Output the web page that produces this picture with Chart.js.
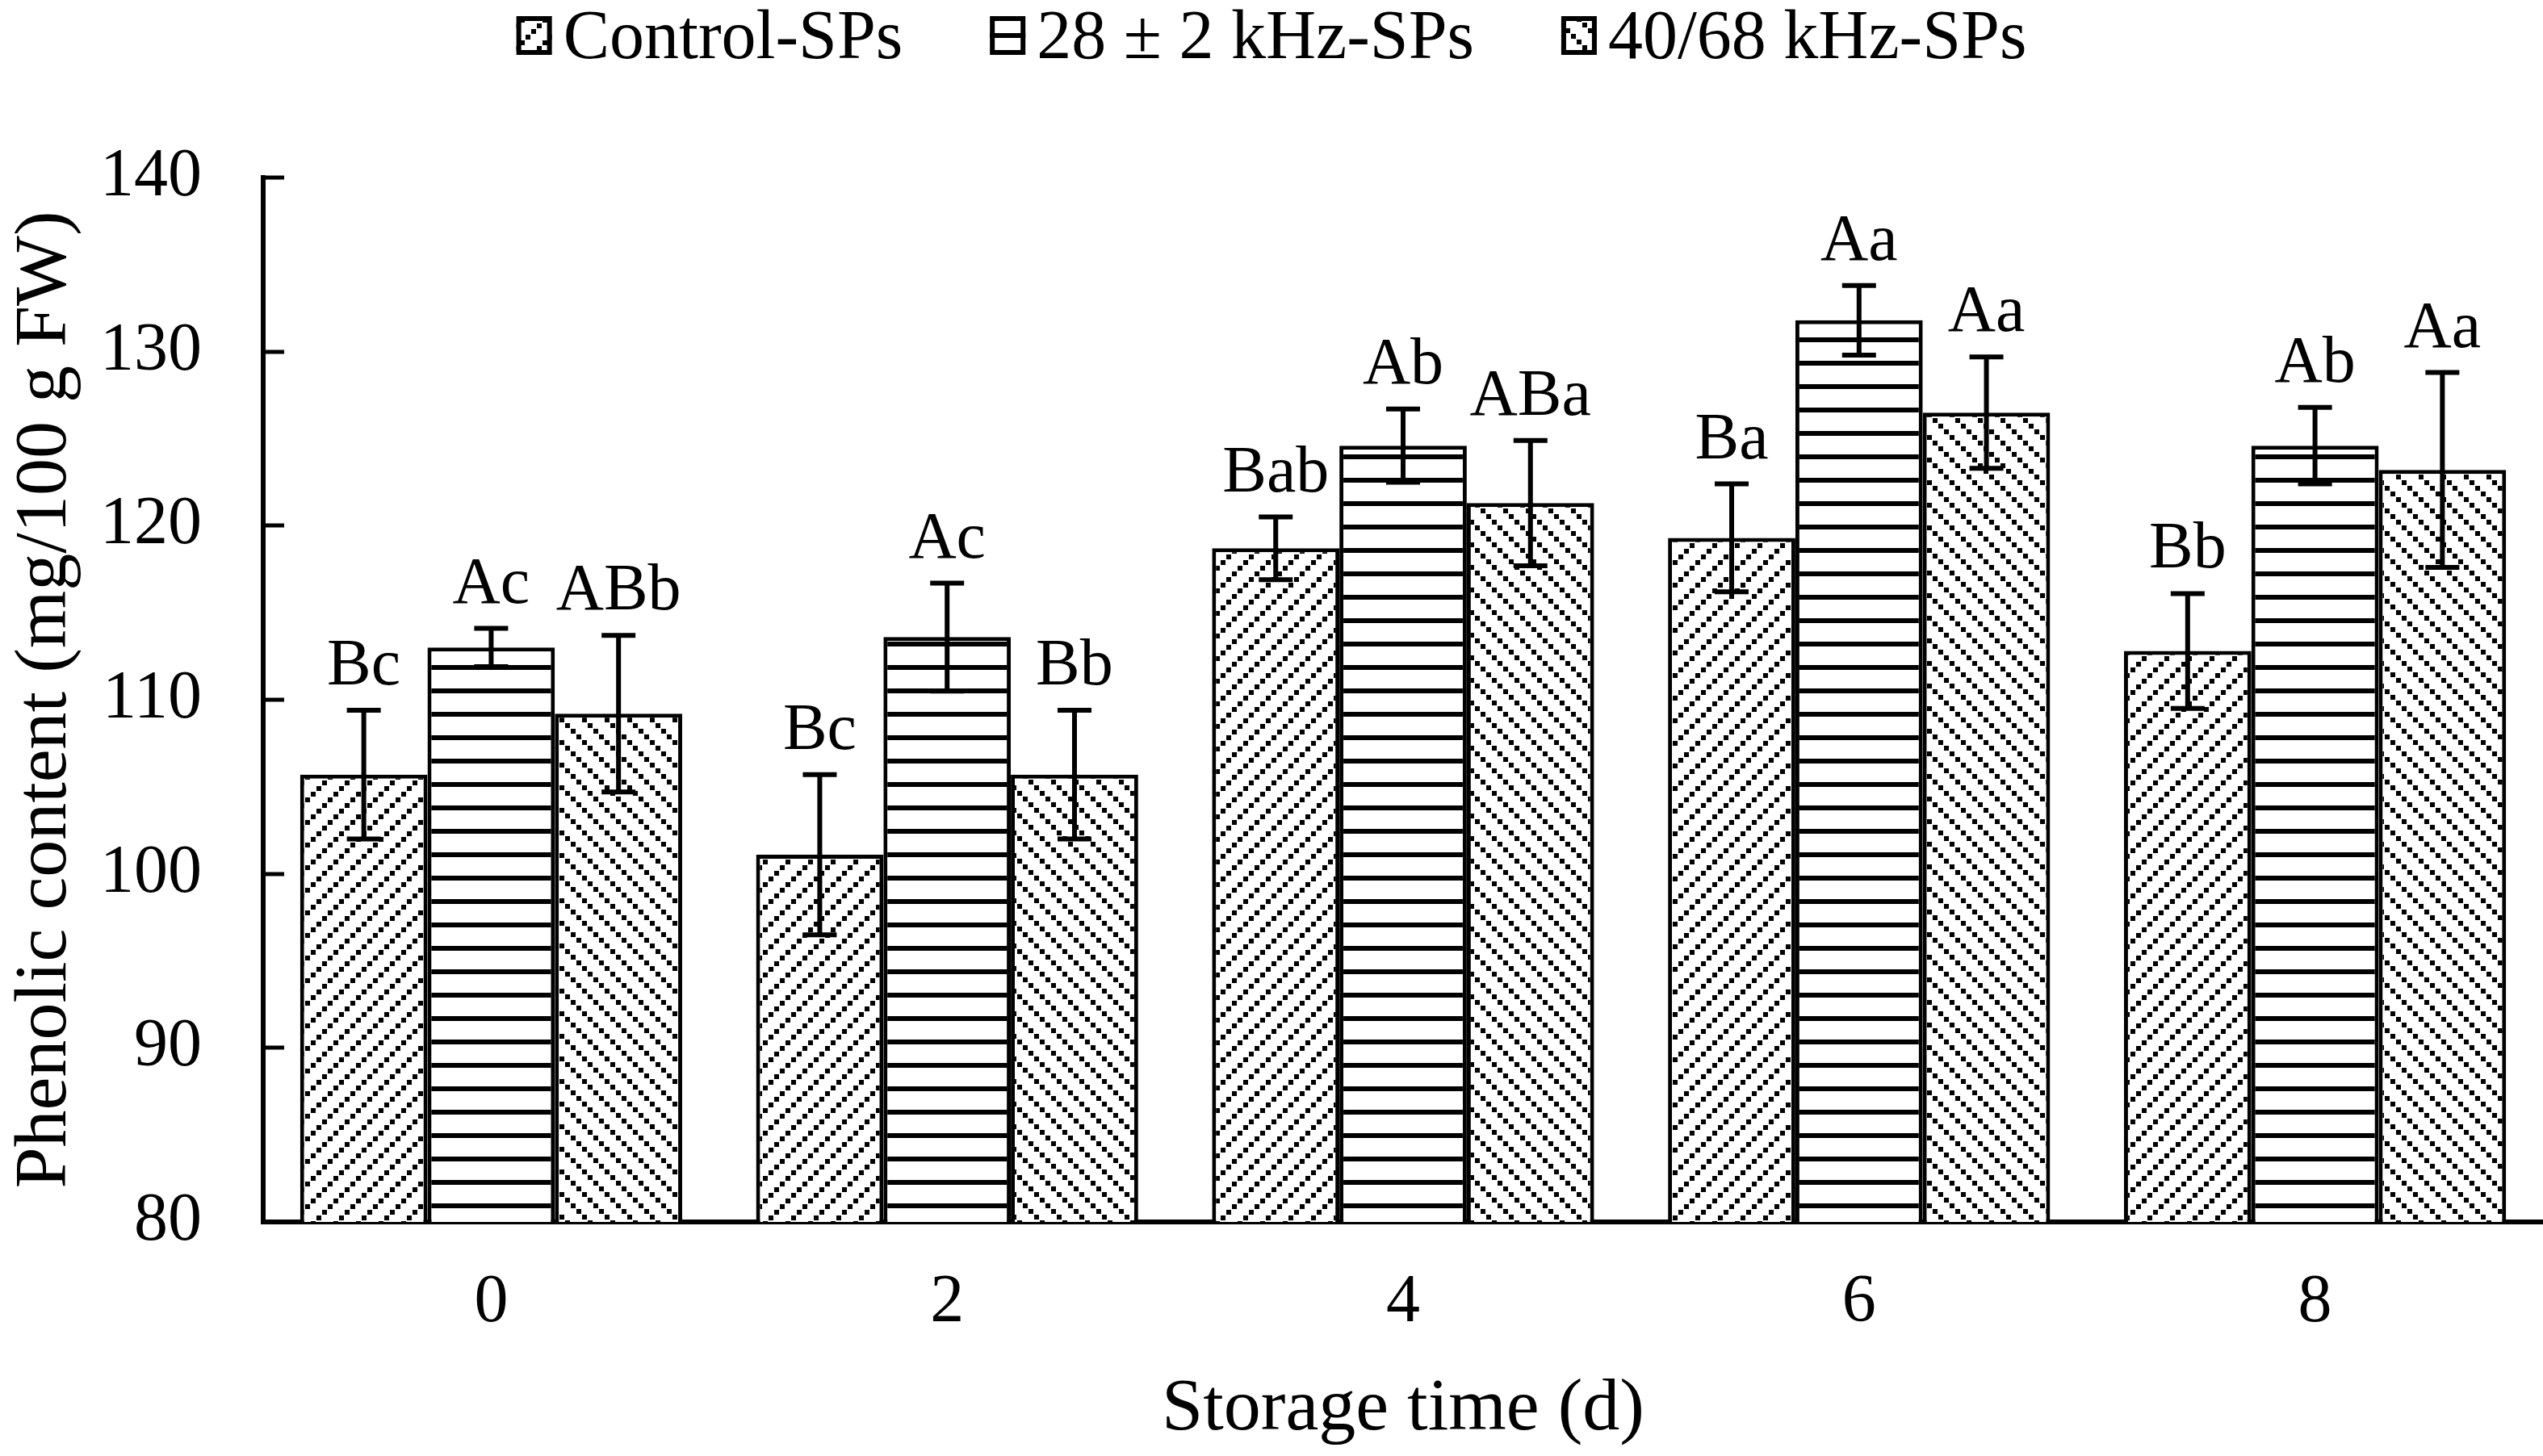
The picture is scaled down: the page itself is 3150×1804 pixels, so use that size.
<!DOCTYPE html>
<html>
<head>
<meta charset="utf-8">
<script src="https://cdn.jsdelivr.net/npm/chart.js@4.4.1/dist/chart.umd.min.js"></script>
<style>
  html, body { margin: 0; padding: 0; background: #fff; }
  #chart { display: block; }
</style>
</head>
<body>
<canvas id="chart" width="3150" height="1804"></canvas>
<script>
// data
const days = ['0', '2', '4', '6', '8'];
const seriesNames = ['Control-SPs', '28 \u00b1 2 kHz-SPs', '40/68 kHz-SPs'];

const control = [105.7, 101.1, 118.7, 119.3, 112.8];
const khz28 = [113.0, 113.6, 124.6, 131.8, 124.6];
const khz4068 = [109.2, 105.7, 121.3, 126.5, 123.2];

const controlErr = [3.7, 4.6, 1.8, 3.1, 3.3];
const khz28Err = [1.1, 3.1, 2.1, 2.0, 2.2];
const khz4068Err = [4.5, 3.7, 3.6, 3.2, 5.6];

const controlLetters = ['Bc', 'Bc', 'Bab', 'Ba', 'Bb'];
const khz28Letters = ['Ac', 'Ac', 'Ab', 'Aa', 'Ab'];
const khz4068Letters = ['ABb', 'Bb', 'ABa', 'Aa', 'Aa'];

const yTicks = [80, 90, 100, 110, 120, 130, 140];

const FONT = '"Liberation Serif", "Times New Roman", serif';

const canvas = document.getElementById('chart');
const ctx = canvas.getContext('2d');

// hatch fills
function makePattern(kind) {
    const s = kind === 'h' ? 29 : 28;
    const tile = document.createElement('canvas');
    tile.width = s;
    tile.height = s;
    const g = tile.getContext('2d');
    g.fillStyle = '#fff';
    g.fillRect(0, 0, s, s);
    g.fillStyle = '#000';
    if (kind === 'h') {
        g.fillRect(0, 12, s, 6);
    } else {
        const step = s / 4;
        for (let i = 0; i < 4; i++) {
            const x = i * step;
            const y = kind === 'up' ? s - i * step - 6 : i * step;
            g.fillRect(x, y, 6, 6);
        }
    }
    return ctx.createPattern(tile, 'repeat');
}

const fills = [makePattern('up'), makePattern('h'), makePattern('down')];

// error bars, letters, inner y ticks and the legend
const decor = {
    id: 'decor',
    afterDatasetsDraw(chart) {
        const c = chart.ctx;
        const y = chart.scales.y;
        const area = chart.chartArea;
        c.save();

        // inward tick marks on the y axis
        c.strokeStyle = '#000';
        c.lineWidth = 5;
        yTicks.forEach(v => {
            if (v === y.min) return;
            const py = Math.round(y.getPixelForValue(v));
            c.beginPath();
            c.moveTo(area.left, py);
            c.lineTo(area.left + 26, py);
            c.stroke();
        });

        c.font = '82px ' + FONT;
        c.fillStyle = '#000';
        c.textAlign = 'center';
        c.textBaseline = 'alphabetic';
        chart.data.datasets.forEach((ds, di) => {
            const meta = chart.getDatasetMeta(di);
            meta.data.forEach((bar, i) => {
                const v = ds.data[i];
                const e = ds.err[i];
                const top = y.getPixelForValue(v + e);
                const bot = y.getPixelForValue(v - e);
                c.lineWidth = 6;
                c.beginPath();
                c.moveTo(bar.x, top);
                c.lineTo(bar.x, bot);
                c.moveTo(bar.x - 21, top);
                c.lineTo(bar.x + 21, top);
                c.moveTo(bar.x - 21, bot);
                c.lineTo(bar.x + 21, bot);
                c.stroke();
                c.fillText(ds.letters[i], bar.x, top - 32);
            });
        });

        // legend across the top
        c.font = '86px ' + FONT;
        c.textAlign = 'left';
        const boxW = 44, boxH = 48, gap = 14, itemGap = 108;
        const widths = seriesNames.map(n => boxW + gap + c.measureText(n).width);
        const total = widths.reduce((a, b) => a + b, 0) + itemGap * (seriesNames.length - 1);
        let x = (chart.width - total) / 2;
        seriesNames.forEach((name, k) => {
            c.fillStyle = fills[k];
            c.fillRect(x, 20, boxW, boxH);
            c.lineWidth = 6;
            c.strokeStyle = '#000';
            c.strokeRect(x + 3, 23, boxW - 6, boxH - 6);
            c.fillStyle = '#000';
            c.fillText(name, x + boxW + gap, 72);
            x += widths[k] + itemGap;
        });
        c.restore();
    }
};

const chart = new Chart(ctx, {
    type: 'bar',
    data: {
        labels: days,
        datasets: [
            { label: seriesNames[0], data: control, err: controlErr, letters: controlLetters, backgroundColor: fills[0] },
            { label: seriesNames[1], data: khz28, err: khz28Err, letters: khz28Letters, backgroundColor: fills[1] },
            { label: seriesNames[2], data: khz4068, err: khz4068Err, letters: khz4068Letters, backgroundColor: fills[2] }
        ]
    },
    options: {
        responsive: false,
        animation: false,
        devicePixelRatio: 1,
        layout: { padding: { top: 220, right: 0, bottom: 0, left: 0 } },
        datasets: {
            bar: {
                categoryPercentage: 0.838,
                barPercentage: 1,
                borderColor: '#000',
                borderWidth: 5,
                borderSkipped: false
            }
        },
        plugins: {
            legend: { display: false },
            tooltip: { enabled: false }
        },
        scales: {
            x: {
                grid: { display: false, drawTicks: false },
                border: { display: true, color: '#000', width: 6 },
                ticks: { color: '#000', font: { family: FONT, size: 84 }, padding: 51 },
                title: {
                    display: true,
                    text: 'Storage time (d)',
                    color: '#000',
                    font: { family: FONT, size: 92 },
                    padding: 2
                },
                afterFit(scale) { scale.height = 290; }
            },
            y: {
                min: 80,
                max: 140,
                afterBuildTicks(scale) { scale.ticks = yTicks.map(v => ({ value: v })); },
                grid: { display: false, drawTicks: false },
                border: { display: true, color: '#000', width: 6 },
                ticks: { color: '#000', font: { family: FONT, size: 84 }, padding: 76 },
                title: {
                    display: true,
                    text: 'Phenolic content (mg/100 g FW)',
                    color: '#000',
                    font: { family: FONT, size: 92 },
                    padding: 2
                },
                afterFit(scale) { scale.width = 326; }
            }
        }
    },
    plugins: [decor]
});
</script>
</body>
</html>
